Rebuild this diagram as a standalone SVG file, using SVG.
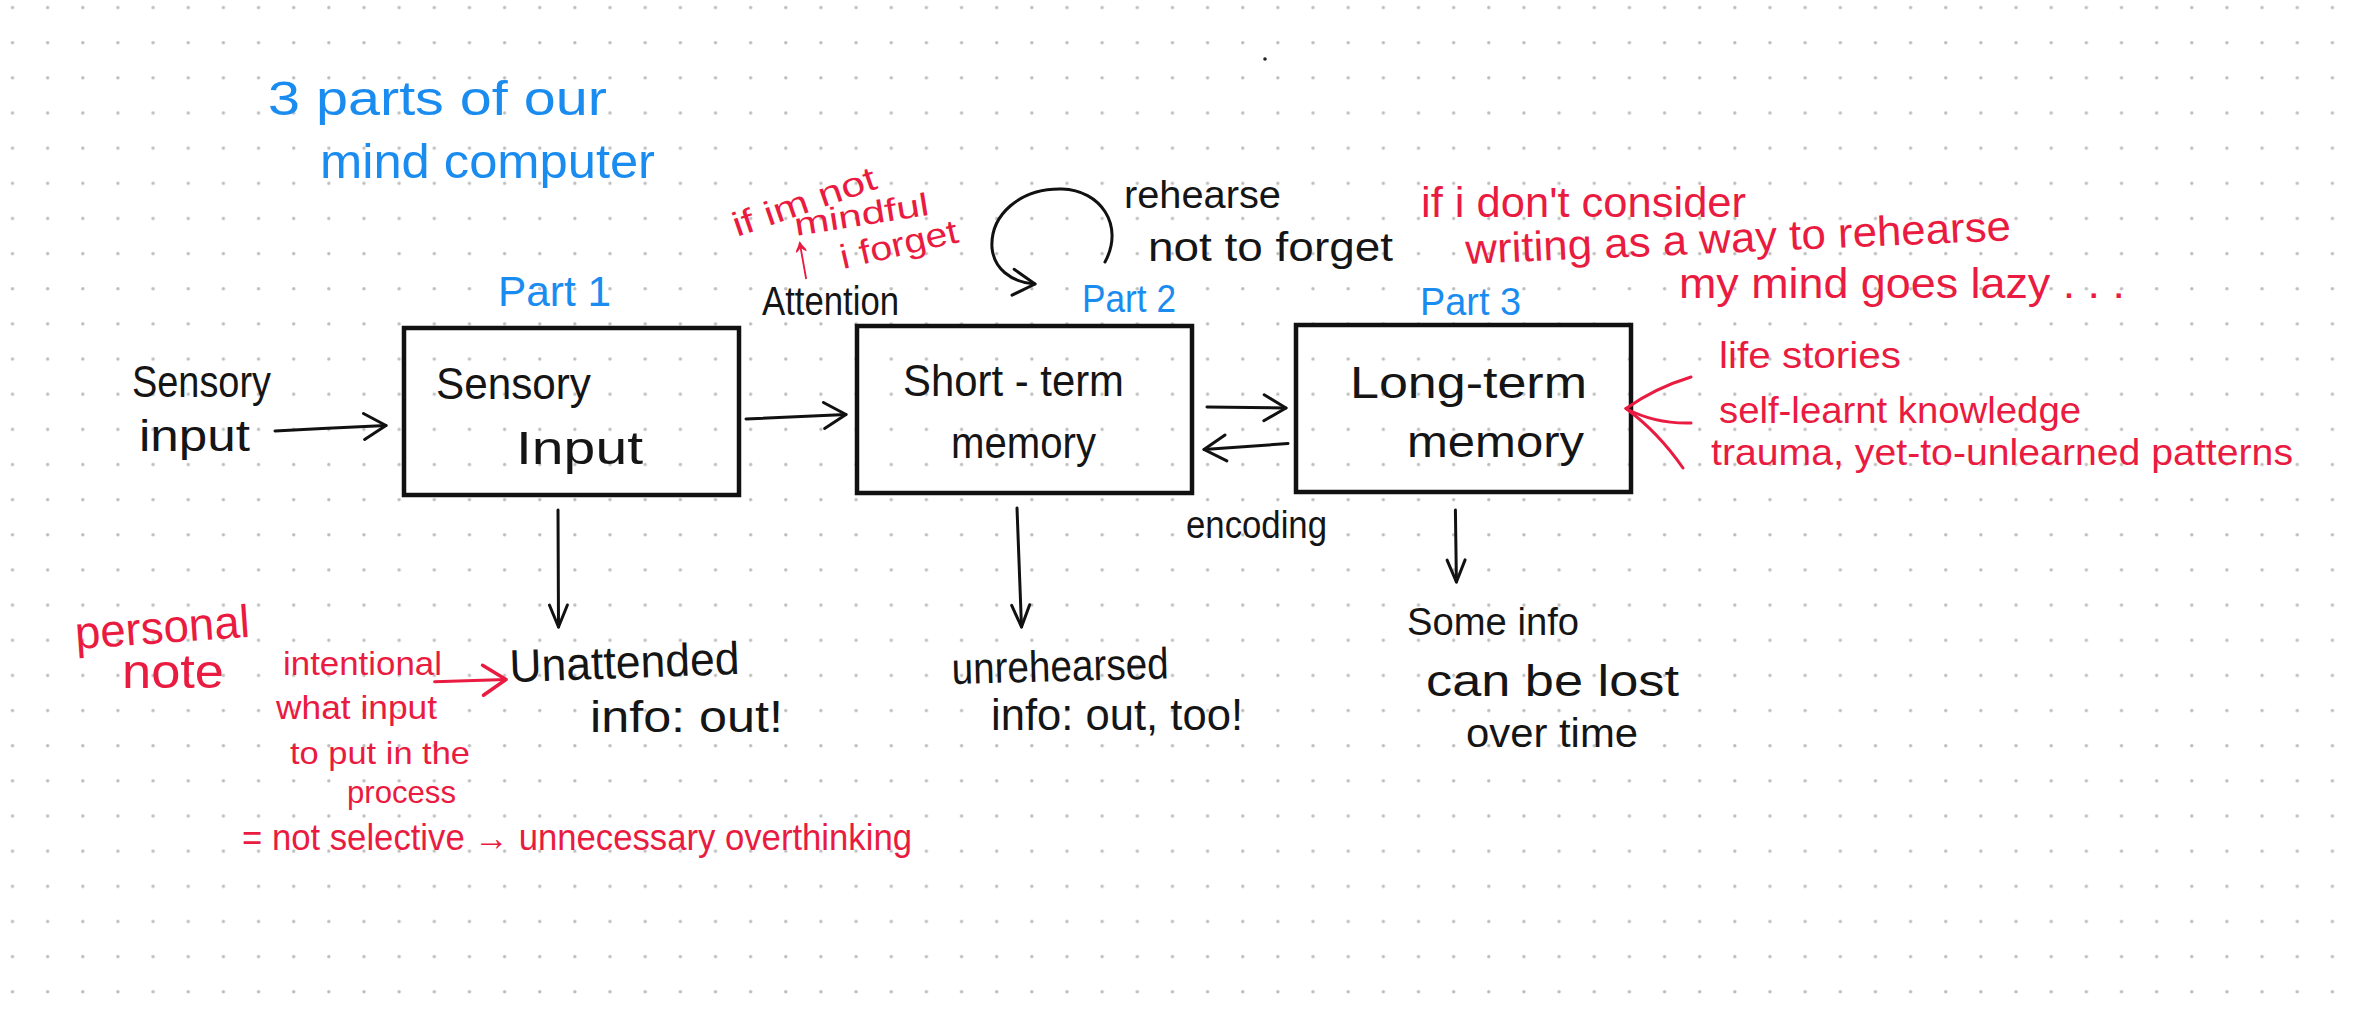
<svg xmlns="http://www.w3.org/2000/svg" width="2360" height="1025" viewBox="0 0 2360 1025">
<style>
.t{font-family:"Liberation Sans",Arial,sans-serif;}
.k{fill:#151515;}
.b{fill:#1a8cf0;}
.r{fill:#ea1b40;}
.box{fill:none;stroke:#111;stroke-width:4.5;}
.ln{fill:none;stroke:#111;stroke-width:3;stroke-linecap:round;stroke-linejoin:round;}
.lr{fill:none;stroke:#ea1b40;stroke-width:3;stroke-linecap:round;stroke-linejoin:round;}
</style>
<defs>
<pattern id="dots" x="0" y="0" width="35.15" height="35.15" patternUnits="userSpaceOnUse">
<circle cx="12.5" cy="7.6" r="1.7" fill="#bdbdbd"/>
</pattern>
<marker id="ah" viewBox="-4 -16 30 32" refX="22" refY="0" markerWidth="30" markerHeight="32" markerUnits="userSpaceOnUse" orient="auto" overflow="visible">
<path d="M0,-13 L22,0 L0,13" fill="none" stroke="#111" stroke-width="3" stroke-linecap="round" stroke-linejoin="round"/>
</marker>
<marker id="ahn" viewBox="-4 -12 30 24" refX="22" refY="0" markerWidth="30" markerHeight="24" markerUnits="userSpaceOnUse" orient="auto" overflow="visible">
<path d="M0,-9 L22,0 L0,9" fill="none" stroke="#111" stroke-width="3" stroke-linecap="round" stroke-linejoin="round"/>
</marker>
<marker id="ahr" viewBox="-4 -18 30 36" refX="23" refY="0" markerWidth="30" markerHeight="36" markerUnits="userSpaceOnUse" orient="auto" overflow="visible">
<path d="M0,-15 L23,0 L0,15" fill="none" stroke="#ea1b40" stroke-width="3.5" stroke-linecap="round" stroke-linejoin="round"/>
</marker>
</defs>
<rect width="2360" height="1025" fill="#ffffff"/>
<rect width="2360" height="1025" fill="url(#dots)"/>
<circle cx="1265" cy="59" r="1.8" fill="#222"/>

<g id="title">
<text class="t b" x="268" y="115" font-size="48" textLength="339" lengthAdjust="spacingAndGlyphs">3 parts of our</text>
<text class="t b" x="320" y="178" font-size="48" textLength="335" lengthAdjust="spacingAndGlyphs">mind computer</text>
</g>

<g id="node-sensory-input">
<rect class="box" x="404" y="328" width="335" height="167"/>
<text class="t k" x="436" y="399" font-size="44" textLength="155" lengthAdjust="spacingAndGlyphs">Sensory</text>
<text class="t k" x="516" y="464" font-size="46" textLength="127" lengthAdjust="spacingAndGlyphs">Input</text>
<text class="t b" x="498" y="306" font-size="42" textLength="113" lengthAdjust="spacingAndGlyphs">Part 1</text>
</g>

<g id="node-short-term">
<rect class="box" x="857" y="326" width="335" height="167"/>
<text class="t k" x="903" y="396" font-size="44" textLength="221" lengthAdjust="spacingAndGlyphs">Short - term</text>
<text class="t k" x="951" y="458" font-size="44" textLength="145" lengthAdjust="spacingAndGlyphs">memory</text>
<text class="t b" x="1082" y="312" font-size="38" textLength="94" lengthAdjust="spacingAndGlyphs">Part 2</text>
</g>

<g id="node-long-term">
<rect class="box" x="1296" y="325" width="335" height="167"/>
<text class="t k" x="1350" y="398" font-size="44" textLength="237" lengthAdjust="spacingAndGlyphs">Long-term</text>
<text class="t k" x="1407" y="457" font-size="44" textLength="177" lengthAdjust="spacingAndGlyphs">memory</text>
<text class="t b" x="1420" y="315" font-size="38" textLength="101" lengthAdjust="spacingAndGlyphs">Part 3</text>
</g>

<g id="connectors">
<path class="ln" d="M275,431 Q330,428 386,425.5" marker-end="url(#ah)"/>
<path class="ln" d="M746,419 L846,414.5" marker-end="url(#ah)"/>
<path class="ln" d="M1207,407 L1286,408" marker-end="url(#ah)"/>
<path class="ln" d="M1288,443.5 L1204,449.5" marker-end="url(#ah)"/>
<path class="ln" d="M558,510 L558.5,627" marker-end="url(#ahn)"/>
<path class="ln" d="M1017,508 L1021.5,627" marker-end="url(#ahn)"/>
<path class="ln" d="M1455.4,510 L1456.4,582" marker-end="url(#ahn)"/>
<path class="ln" d="M1105,262 C1125,225 1100,190 1062,189 C1020,188 990,215 992,248 C994,268 1010,282 1035,284" marker-end="url(#ah)"/>
<path class="lr" d="M434.6,681.7 L506,679.5" marker-end="url(#ahr)"/>
<path class="lr" d="M1626,408.5 Q1655,388 1691,377"/>
<path class="lr" d="M1626,408.5 Q1655,424 1691,423"/>
<path class="lr" d="M1626,408.5 Q1658,432 1683,468"/>
</g>

<g id="labels-black">
<text class="t k" x="132" y="397" font-size="44" textLength="139" lengthAdjust="spacingAndGlyphs">Sensory</text>
<text class="t k" x="139" y="451" font-size="44" textLength="111" lengthAdjust="spacingAndGlyphs">input</text>
<text class="t k" x="762" y="315" font-size="40" textLength="137" lengthAdjust="spacingAndGlyphs">Attention</text>
<text class="t k" x="1124" y="208" font-size="38" textLength="157" lengthAdjust="spacingAndGlyphs">rehearse</text>
<text class="t k" x="1148" y="261" font-size="40" textLength="245" lengthAdjust="spacingAndGlyphs">not to forget</text>
<text class="t k" x="1186" y="538" font-size="38" textLength="141" lengthAdjust="spacingAndGlyphs">encoding</text>
<text class="t k" x="510" y="682" font-size="46" textLength="230" lengthAdjust="spacingAndGlyphs" transform="rotate(-2 510 682)">Unattended</text>
<text class="t k" x="590" y="732" font-size="44" textLength="193" lengthAdjust="spacingAndGlyphs">info: out!</text>
<text class="t k" x="952" y="684" font-size="44" textLength="217" lengthAdjust="spacingAndGlyphs" transform="rotate(-1.5 952 684)">unrehearsed</text>
<text class="t k" x="991" y="730" font-size="44" textLength="252" lengthAdjust="spacingAndGlyphs">info: out, too!</text>
<text class="t k" x="1407" y="635" font-size="38" textLength="172" lengthAdjust="spacingAndGlyphs">Some info</text>
<text class="t k" x="1426" y="696" font-size="44" textLength="253" lengthAdjust="spacingAndGlyphs">can be lost</text>
<text class="t k" x="1466" y="747" font-size="40" textLength="172" lengthAdjust="spacingAndGlyphs">over time</text>
</g>

<g id="notes-red">
<text class="t r" x="737" y="237" font-size="34" textLength="150" lengthAdjust="spacingAndGlyphs" transform="rotate(-19 737 237)">if im not</text>
<text class="t r" x="796" y="236" font-size="32" textLength="136" lengthAdjust="spacingAndGlyphs" transform="rotate(-9 796 236)">mindful</text>
<text class="t r" x="795" y="279" font-size="64" textLength="22" lengthAdjust="spacingAndGlyphs" transform="rotate(-10 795 279)">↑</text>
<text class="t r" x="843" y="269" font-size="34" textLength="120" lengthAdjust="spacingAndGlyphs" transform="rotate(-13 843 269)">i forget</text>
<text class="t r" x="1421" y="217" font-size="42" textLength="325" lengthAdjust="spacingAndGlyphs">if i don't consider</text>
<text class="t r" x="1466" y="264" font-size="42" textLength="546" lengthAdjust="spacingAndGlyphs" transform="rotate(-2.5 1466 264)">writing as a way to rehearse</text>
<text class="t r" x="1679" y="298" font-size="42" textLength="446" lengthAdjust="spacingAndGlyphs">my mind goes lazy . . .</text>
<text class="t r" x="1719" y="368" font-size="36" textLength="182" lengthAdjust="spacingAndGlyphs">life stories</text>
<text class="t r" x="1719" y="423" font-size="36" textLength="362" lengthAdjust="spacingAndGlyphs">self-learnt knowledge</text>
<text class="t r" x="1711" y="465" font-size="36" textLength="582" lengthAdjust="spacingAndGlyphs">trauma, yet-to-unlearned patterns</text>
<text class="t r" x="76" y="649" font-size="46" textLength="175" lengthAdjust="spacingAndGlyphs" transform="rotate(-4 76 649)">personal</text>
<text class="t r" x="122" y="688" font-size="48" textLength="102" lengthAdjust="spacingAndGlyphs">note</text>
<text class="t r" x="283" y="675" font-size="34" textLength="159" lengthAdjust="spacingAndGlyphs">intentional</text>
<text class="t r" x="276" y="719" font-size="33" textLength="161" lengthAdjust="spacingAndGlyphs">what input</text>
<text class="t r" x="290" y="764" font-size="32" textLength="180" lengthAdjust="spacingAndGlyphs">to put in the</text>
<text class="t r" x="347" y="803" font-size="32" textLength="109" lengthAdjust="spacingAndGlyphs">process</text>
<text class="t r" x="242" y="850" font-size="36" textLength="670" lengthAdjust="spacingAndGlyphs">= not selective → unnecessary overthinking</text>
</g>
</svg>
